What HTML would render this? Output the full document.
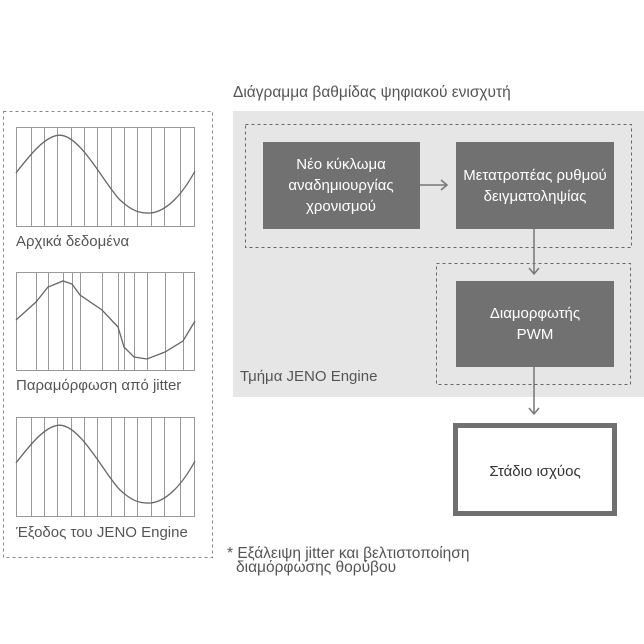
<!DOCTYPE html>
<html><head><meta charset="utf-8"><style>
body{margin:0;width:644px;height:644px;background:#fff;overflow:hidden;font-family:"Liberation Sans",sans-serif}
svg{position:absolute;left:0;top:0}
</style></head><body>
<svg width="644" height="644" viewBox="0 0 644 644" font-family="Liberation Sans, sans-serif">
<text x="233" y="97" font-size="15.5" fill="#555">Διάγραμμα βαθμίδας ψηφιακού ενισχυτή</text>
<rect x="233" y="111" width="411" height="286" fill="#e6e6e6"/>
<rect x="245.5" y="124.5" width="386" height="123" fill="none" stroke="#666" stroke-dasharray="3,3"/>
<rect x="436.5" y="263.5" width="194" height="121" fill="none" stroke="#666" stroke-dasharray="3,3"/>
<rect x="263" y="142" width="157" height="87" fill="#717171"/>
<rect x="456" y="142" width="158" height="87" fill="#717171"/>
<rect x="456" y="281" width="158" height="86" fill="#717171"/>
<g fill="#fff" font-size="15" text-anchor="middle">
<text x="341" y="169">Νέο κύκλωμα</text><text x="341" y="190">αναδημιουργίας</text><text x="341" y="211">χρονισμού</text>
<text x="535" y="180">Μετατροπέας ρυθμού</text><text x="535" y="201">δειγματοληψίας</text>
<text x="535" y="318">Διαμορφωτής</text><text x="535" y="339">PWM</text>
</g>
<text x="240" y="381" font-size="15" fill="#555">Τμήμα JENO Engine</text>
<g stroke="#777" stroke-width="1.5" fill="none">
<path d="M420 185H447M441 180L447 185L441 190"/>
<path d="M534 229V274M529 268L534 274L539 268"/>
<path d="M534 367V414M529 408L534 414L539 408"/>
</g>
<rect x="455.5" y="425.5" width="159" height="88" fill="#fff" stroke="#707070" stroke-width="5"/>
<text x="535" y="476" font-size="15" fill="#333" text-anchor="middle">Στάδιο ισχύος</text>
<text x="227" y="558" font-size="15.5" fill="#555">* Εξάλειψη jitter και βελτιστοποίηση</text>
<text x="236" y="572" font-size="15.5" fill="#555">διαμόρφωσης θορύβου</text>
<rect x="3.5" y="111.5" width="209" height="446" fill="none" stroke="#888" stroke-dasharray="3,3"/>
<g stroke="#999" fill="none">
<rect x="16.5" y="127.5" width="178" height="99"/>
<path d="M31.5 127V226M44.5 127V226M57.5 127V226M71.5 127V226M84.5 127V226M97.5 127V226M111.5 127V226M124.5 127V226M137.5 127V226M151.5 127V226M164.5 127V226M180.5 127V226"/>
</g>
<g stroke="#999" fill="none" transform="translate(0,290)">
<rect x="16.5" y="127.5" width="178" height="99"/>
<path d="M31.5 127V226M44.5 127V226M57.5 127V226M71.5 127V226M84.5 127V226M97.5 127V226M111.5 127V226M124.5 127V226M137.5 127V226M151.5 127V226M164.5 127V226M180.5 127V226"/>
</g>
<path d="M16 172.9 C30 155 45 136 59 135.2 C80 134 105 185 120 200 C132 211 140 213.5 150 213 C166 212 182 195 195 171" stroke="#666" stroke-width="1.3" fill="none"/>
<path d="M16 462.9 C30 445 45 426 59 425.2 C80 424 105 475 120 490 C132 501 140 503.5 150 503 C166 502 182 485 195 461" stroke="#666" stroke-width="1.3" fill="none"/>
<g stroke="#999" fill="none">
<rect x="16.5" y="272.5" width="178" height="98"/>
<path d="M36.5 272V370M48.5 272V370M63.5 272V370M72.5 272V370M80.5 272V370M102.5 272V370M118.5 272V370M124.5 272V370M134.5 272V370M147.5 272V370M165.5 272V370M183.5 272V370"/>
</g>
<polyline points="16,320 36,302 48,287 63,281 72,284 80,295 102,310 118,327 124,347 134,357 147,359 165,352 183,341 195,321" stroke="#666" stroke-width="1.3" fill="none"/>
<g font-size="15" fill="#555">
<text x="16" y="246">Αρχικά δεδομένα</text>
<text x="16" y="390">Παραμόρφωση από jitter</text>
<text x="16" y="537">Έξοδος του JENO Engine</text>
</g>
</svg>
</body></html>
